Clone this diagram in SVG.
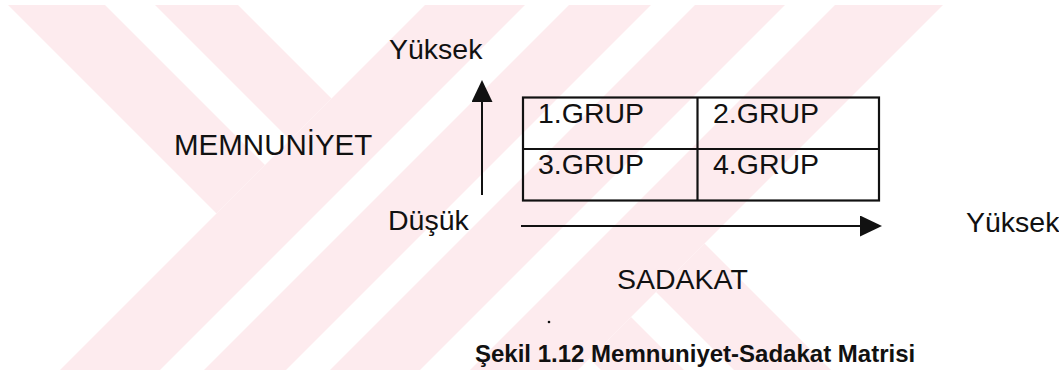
<svg xmlns="http://www.w3.org/2000/svg" width="1059" height="370" viewBox="0 0 1059 370">
  <defs>
    <style>
      .wm { fill: #fdebee; }
      .t { font-family: "Liberation Sans", Arial, sans-serif; font-size: 28.5px; fill: #111; }
      .cap { font-family: "Liberation Sans", Arial, sans-serif; font-size: 24px; font-weight: bold; fill: #111; }
      .ln { stroke: #111; stroke-width: 2; fill: none; }
      .box { stroke: #111; stroke-width: 2.2; fill: none; }
    </style>
    <marker id="head" viewBox="0 0 22 21" refX="1" refY="10.5" markerWidth="22" markerHeight="21" markerUnits="userSpaceOnUse" orient="auto">
      <path d="M0,0 L22,10.5 L0,21 Z" fill="#111"/>
    </marker>
    <clipPath id="page">
      <rect x="0" y="5" width="1059" height="365"/>
    </clipPath>
  </defs>

  <rect width="1059" height="370" fill="#fff"/>

  <!-- background emblem: pale striped diagonal bands -->
  <g id="emblem" class="wm" clip-path="url(#page)">
    <!-- upper-left arm -->
    <polygon points="8,5 105,5 265,165 216.5,213.5"/>
    <polygon points="155,5 238,5 331.5,98.5 290,140"/>
    <!-- rising band, four stripes -->
    <polygon points="430,0 530,0 160,370 60,370"/>
    <polygon points="574,0 656,0 286,370 204,370"/>
    <polygon points="700,0 790,0 420,370 330,370"/>
    <polygon points="840,0 948,0 578,370 470,370"/>
    <!-- lower-right arm -->
    <polygon points="589.5,358.5 631,317 684,370 601,370"/>
    <polygon points="656,292 704.5,243.5 831,370 734,370"/>
  </g>

  <!-- connectors: the two axes -->
  <g id="axes">
    <line class="ln" x1="482" y1="195" x2="482" y2="101" marker-end="url(#head)"/>
    <line class="ln" x1="521" y1="226" x2="861" y2="226" marker-end="url(#head)"/>
  </g>

  <!-- the 2x2 matrix -->
  <g id="matrix">
    <rect class="box" x="523" y="97.5" width="356" height="103"/>
    <line class="box" x1="697.5" y1="97.5" x2="697.5" y2="200.5"/>
    <line class="box" x1="523" y1="149" x2="879" y2="149"/>
  </g>
  <g id="grup1"><text class="t" x="538" y="123">1.GRUP</text></g>
  <g id="grup2"><text class="t" x="713" y="123">2.GRUP</text></g>
  <g id="grup3"><text class="t" x="538" y="174">3.GRUP</text></g>
  <g id="grup4"><text class="t" x="713" y="174">4.GRUP</text></g>

  <!-- axis labels -->
  <g id="y-high"><text class="t" x="389" y="59">Yüksek</text></g>
  <g id="y-name"><text class="t" x="174" y="155" style="font-size:29.5px">MEMNUNİYET</text></g>
  <g id="low"><text class="t" x="388" y="230">Düşük</text></g>
  <g id="x-high"><text class="t" x="966" y="232">Yüksek</text></g>
  <g id="x-name"><text class="t" x="617" y="289">SADAKAT</text></g>

  <circle cx="549" cy="322" r="1.3" fill="#111"/>

  <g id="caption"><text class="cap" x="475" y="362">Şekil 1.12 Memnuniyet-Sadakat Matrisi</text></g>
</svg>
